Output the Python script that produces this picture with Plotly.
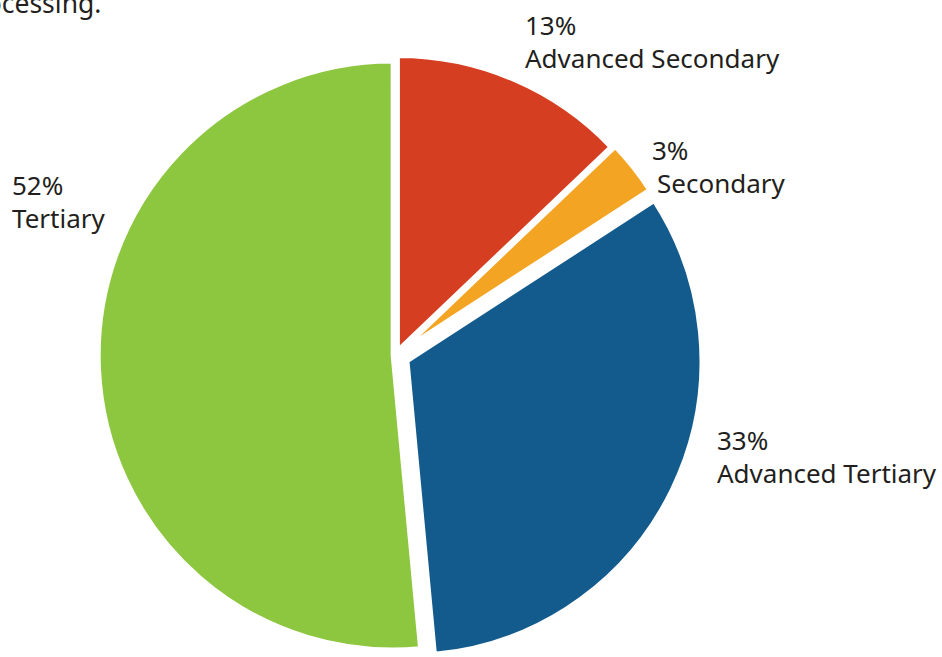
import plotly.graph_objects as go

W, H = 942, 680  # figure is a bit taller than the window; the bottom is clipped like the reference

categories = ["Advanced Secondary", "Secondary", "Advanced Tertiary", "Tertiary"]
values = [13, 3, 33, 52]
colors = ["#D63E21", "#F4A423", "#135B8C", "#8DC63F"]
title_fragment = "processing."

fig = go.Figure(go.Pie(
    labels=categories,
    values=values,
    sort=False,
    direction="clockwise",
    rotation=0,
    marker=dict(colors=colors, line=dict(color="white", width=4)),
    pull=[0.02, 0.03, 0.045, 0.01],
    textinfo="none",
    hoverinfo="label+value",
    showlegend=False,
    domain=dict(x=[0.09384, 0.74607], y=[0.02559, 0.92912]),
))

def px(x):
    return x / W

def py(y):
    return 1 - y / H

# label positions (pixel, top-left of percentage line)
label_pos = [(525, 5), (652, 130), (717, 420), (12, 165)]
indent = [0, 5, 0, 0]
font = dict(family="Noto Sans", size=26, color="#231F20")
ann = []
for cat, val, (x, y), ind in zip(categories, values, label_pos, indent):
    ann.append(dict(text=f"{val}%", x=px(x), y=py(y), xref="paper", yref="paper",
                    xanchor="left", yanchor="top", showarrow=False, font=font,
                    xshift=-2))
    ann.append(dict(text=cat, x=px(x + ind), y=py(y + 33), xref="paper", yref="paper",
                    xanchor="left", yanchor="top", showarrow=False, font=font,
                    xshift=-2))

ann.append(dict(text=title_fragment, x=px(103), y=py(-17), xref="paper", yref="paper",
                xanchor="right", yanchor="top", showarrow=False,
                font=dict(family="Noto Sans", size=26.5, color="#231F20")))

fig.update_layout(
    width=W, height=H,
    margin=dict(l=0, r=0, t=0, b=0),
    paper_bgcolor="white",
    plot_bgcolor="white",
    annotations=ann,
)

fig.write_html(
    "out.html",
    config={"displayModeBar": False},
    post_script="document.body.style.margin='0';document.body.style.overflow='hidden';",
)
